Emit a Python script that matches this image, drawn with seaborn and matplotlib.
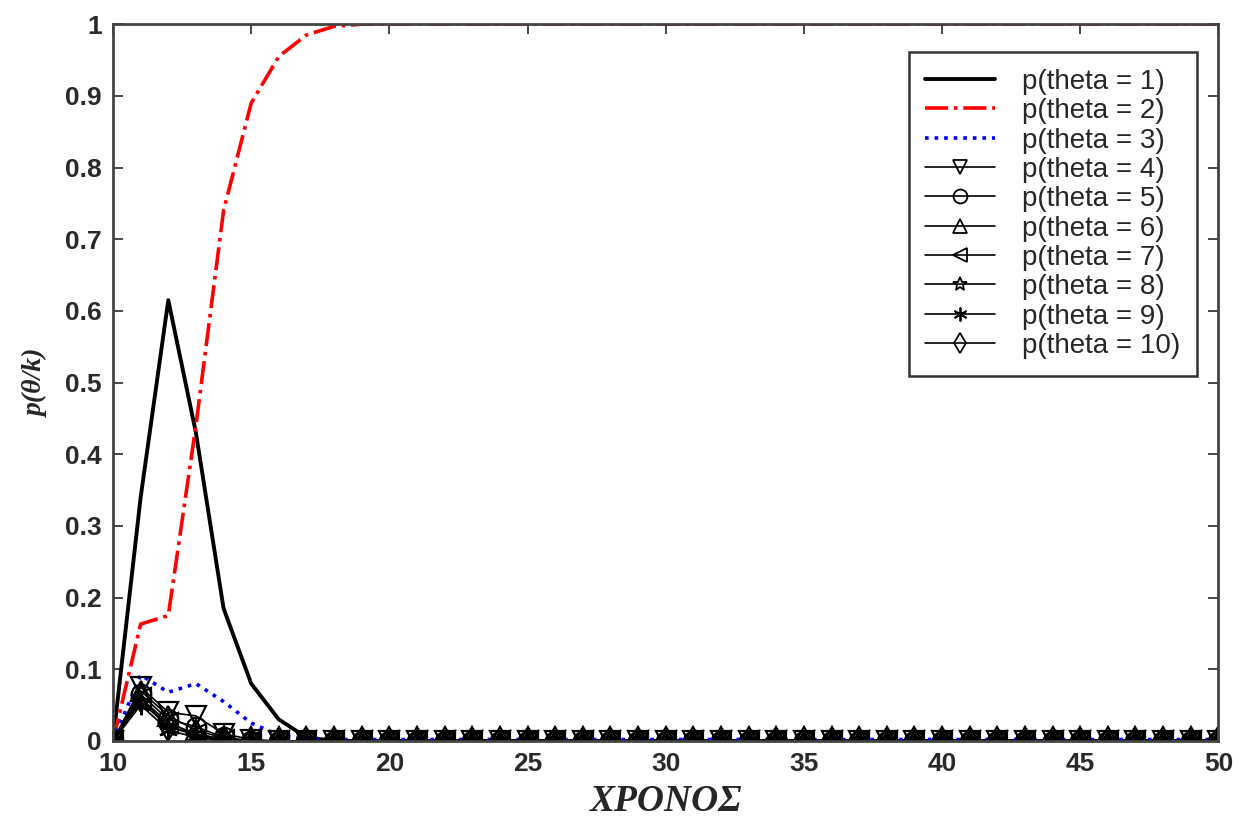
import matplotlib
matplotlib.use("Agg")
import matplotlib.pyplot as plt
import seaborn as sns
import pandas as pd

# time axis (integer steps)
time = list(range(10, 51))

# posterior probabilities
p1 = [0.0, 0.34, 0.615, 0.43, 0.185, 0.08, 0.03, 0.005] + [0.0] * 33
p2 = [0.0, 0.163, 0.175, 0.44, 0.74, 0.89, 0.955, 0.985, 0.997] + [1.0] * 32
p3 = [0.0, 0.092, 0.068, 0.08, 0.055, 0.025, 0.008, 0.003] + [0.002] * 33
p4 = [0.0, 0.075, 0.04, 0.035, 0.01, 0.002] + [0.0] * 35
p5 = [0.0, 0.065, 0.03, 0.02, 0.005] + [0.0] * 36
p6 = [0.0, 0.07, 0.035, 0.015, 0.004] + [0.0] * 36
p7 = [0.0, 0.06, 0.025, 0.01, 0.002] + [0.0] * 36
p8 = [0.0, 0.055, 0.02, 0.008, 0.0] + [0.0] * 36
p9 = [0.0, 0.05, 0.015, 0.005, 0.0] + [0.0] * 36
p10 = [0.0, 0.06, 0.02, 0.01, 0.002] + [0.0] * 36

labels = ['p(theta = %d)' % i for i in range(1, 11)]
series = [p1, p2, p3, p4, p5, p6, p7, p8, p9, p10]

data = pd.DataFrame({'time': time})
for lab, vals in zip(labels, series):
    data[lab] = vals

sns.set_style("ticks")
plt.rcParams['font.family'] = ['Liberation Sans', 'DejaVu Sans']

fig = plt.figure(figsize=(12.42, 8.21), dpi=100)
ax = fig.add_axes([0.091, 0.0975, 0.890, 0.873])

# styles for each curve (MATLAB-like)
styles = [
    dict(color='black', linestyle='-', linewidth=2.8, marker=None),
    dict(color='red', linestyle='-.', linewidth=2.6, marker=None),
    dict(color='blue', linestyle=':', linewidth=2.6, marker=None),
    dict(color='black', linestyle='-', linewidth=1.2, marker='v'),
    dict(color='black', linestyle='-', linewidth=1.2, marker='o'),
    dict(color='black', linestyle='-', linewidth=1.2, marker='^'),
    dict(color='black', linestyle='-', linewidth=1.2, marker='<'),
    dict(color='black', linestyle='-', linewidth=1.2, marker='*'),
    dict(color='black', linestyle='-', linewidth=1.2, marker=(6, 2, 0)),
    dict(color='black', linestyle='-', linewidth=1.2, marker='d'),
]

for lab, st in zip(labels, styles):
    kw = dict(st)
    if kw['marker'] is not None:
        kw.update(markersize=14, markerfacecolor='none', markeredgecolor='black',
                  markeredgewidth=1.6)
    sns.lineplot(ax=ax, data=data, x='time', y=lab, label=lab, **kw)

ax.set_xlim(10, 50)
ax.set_ylim(0, 1)
ax.set_xticks(range(10, 51, 5))
yt = [i / 10 for i in range(11)]
ax.set_yticks(yt)
ax.set_yticklabels(['0' if v == 0 else ('1' if v == 1 else '%.1f' % v) for v in yt])
ax.tick_params(direction='in', top=True, right=True, length=7, width=1.2,
               labelsize=19, colors='#2a2a2a', pad=8)
for t in ax.get_xticklabels() + ax.get_yticklabels():
    t.set_fontweight('bold')
for sp in ax.spines.values():
    sp.set_linewidth(2)
    sp.set_color('#444444')
    sp.set_visible(True)

ax.set_xlabel('ΧΡΟΝΟΣ', family=['Liberation Serif', 'DejaVu Serif'], fontsize=27,
              fontweight='bold', style='italic', labelpad=6)
ax.set_ylabel('p(θ/k)', family=['Liberation Serif', 'DejaVu Serif'], fontsize=20,
              fontweight='bold', style='italic', labelpad=12)

leg = ax.legend(loc='upper right', bbox_to_anchor=(1 - 21 / 1105, 1 - 28 / 717),
                borderaxespad=0, fontsize=20, frameon=True, fancybox=False,
                framealpha=1, edgecolor='#333333', handlelength=2.5,
                handletextpad=1.0, labelspacing=0.12, borderpad=0.6)
leg.get_frame().set_linewidth(1.8)
# smaller marker glyphs inside the legend, as in the original
for h in leg.legend_handles:
    h.set_markersize(10)
    h.set_markeredgewidth(1.3)

fig.savefig('out.png', dpi=100, facecolor='white')
